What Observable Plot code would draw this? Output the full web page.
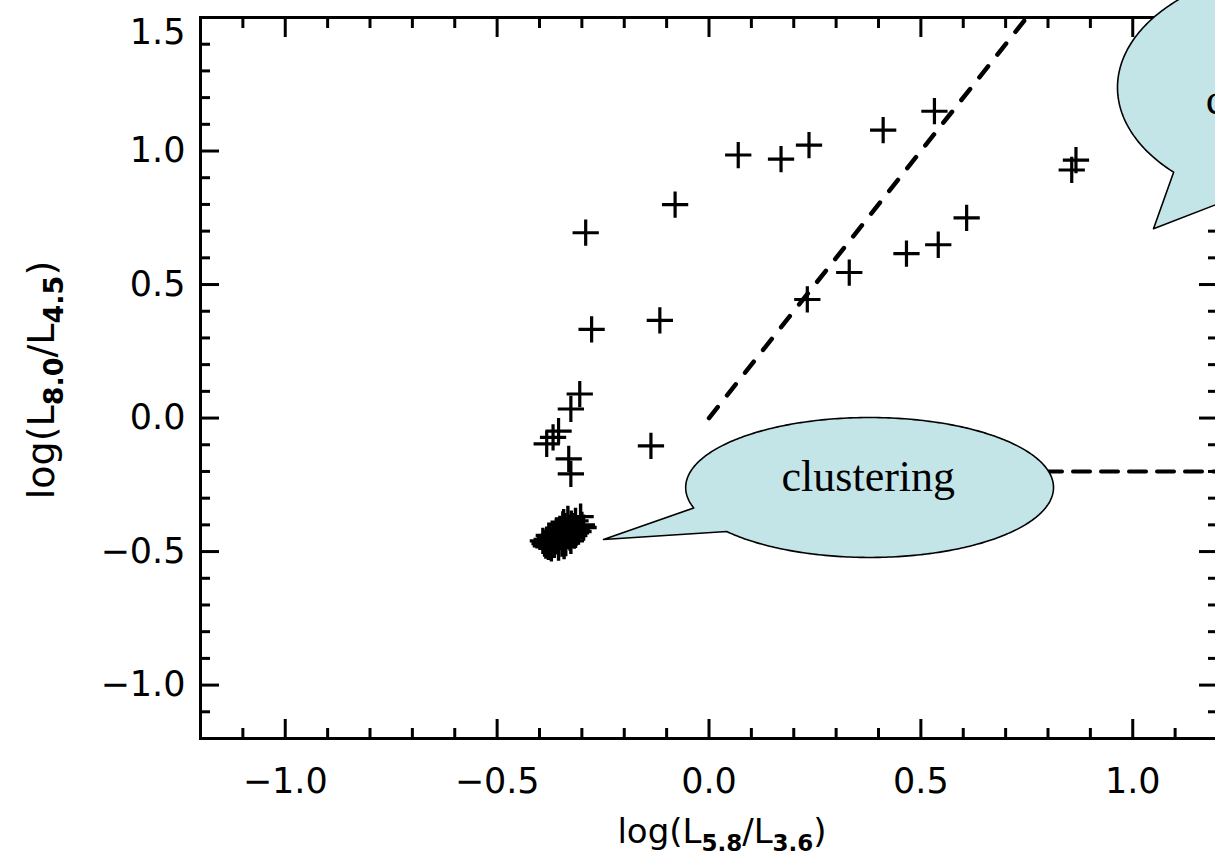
<!DOCTYPE html>
<html>
<head>
<meta charset="utf-8">
<script src="https://cdn.jsdelivr.net/npm/d3@7"></script>
<script src="https://cdn.jsdelivr.net/npm/@observablehq/plot@0.6"></script>
<style>
  html, body { margin: 0; padding: 0; background: #fff; overflow: hidden; }
  #chart { width: 1215px; height: 863px; overflow: hidden; }
  #chart svg { max-width: none !important; }
</style>
</head>
<body>
<div id="chart"></div>
<script>
// ---- scattered sources: log(L5.8/L3.6) vs log(L8.0/L4.5) ----
const ptX = [-0.291, -0.080, 0.069, 0.170, 0.236, 0.411, 0.532, 0.866, 0.856,
             0.608, 0.541, 0.466, 0.331, 0.232, -0.116, -0.277,
             -0.305, -0.326, -0.355, -0.368, -0.383, -0.331, -0.326, -0.137];
const ptY = [0.694, 0.799, 0.985, 0.970, 1.022, 1.078, 1.149, 0.966, 0.929,
             0.750, 0.649, 0.616, 0.545, 0.444, 0.366, 0.332,
             0.090, 0.034, -0.049, -0.072, -0.097, -0.153, -0.209, -0.104];

// ---- the dense clump near (-0.35, -0.43) ----
const clumpX = [-0.303, -0.315, -0.300, -0.325, -0.330, -0.312, -0.340, -0.345, -0.322, -0.335,
                -0.355, -0.350, -0.362, -0.340, -0.328, -0.368, -0.358, -0.375, -0.380, -0.347,
                -0.365, -0.385, -0.392, -0.372, -0.355, -0.338, -0.318, -0.308, -0.296, -0.352,
                -0.360, -0.378, -0.343, -0.333, -0.320, -0.336, -0.349, -0.364, -0.371, -0.383,
                -0.357, -0.342, -0.326, -0.314, -0.366, -0.388, -0.379, -0.352, -0.331, -0.345];
const clumpY = [-0.369, -0.385, -0.400, -0.395, -0.410, -0.418, -0.405, -0.420, -0.428, -0.436,
                -0.430, -0.445, -0.440, -0.452, -0.448, -0.455, -0.462, -0.448, -0.465, -0.470,
                -0.475, -0.478, -0.460, -0.488, -0.485, -0.468, -0.440, -0.425, -0.410, -0.415,
                -0.425, -0.440, -0.390, -0.378, -0.405, -0.422, -0.432, -0.450, -0.470, -0.455,
                -0.458, -0.480, -0.460, -0.430, -0.438, -0.470, -0.482, -0.440, -0.418, -0.398];

// ---- dashed reference lines ----
const diagX = [0.0, 0.75];
const diagY = [0.0, 1.5];
const horizX = [0.0, 1.2];
const horizY = [-0.2, -0.2];

// ---- axis ticks ----
const majorX = [-1.0, -0.5, 0.0, 0.5, 1.0];
const minorX = [-1.1, -0.9, -0.8, -0.7, -0.6, -0.4, -0.3, -0.2, -0.1, 0.1, 0.2, 0.3, 0.4, 0.6, 0.7, 0.8, 0.9, 1.1];
const majorY = [-1.0, -0.5, 0.0, 0.5, 1.0];
const topY = [1.5];
const minorY = [-1.1, -0.9, -0.8, -0.7, -0.6, -0.4, -0.3, -0.2, -0.1, 0.1, 0.2, 0.3, 0.4, 0.6, 0.7, 0.8, 0.9, 1.1, 1.2, 1.3, 1.4];

// ---- callouts (data units) ----
const calloutLabel = ["clustering", "correlation"];
const calloutCx = [0.379, 1.436];
const calloutCy = [-0.260, 1.238];
const calloutRx = [0.434, 0.472];
const calloutRy = [0.262, 0.457];
const calloutTipX = [-0.249, 1.049];
const calloutTipY = [-0.455, 0.709];
const calloutArc = [[163, 501], [136, 475]];
const calloutTextX = [0.376, 1.172];
const calloutTextY = [-0.219, 1.193];

const fmt = d3.format(".1f");
const blank = () => "";

const pts = ptX.map((x, i) => ({x, y: ptY[i]}));
const clump = clumpX.map((x, i) => ({x, y: clumpY[i]}));
const diag = diagX.map((x, i) => ({x, y: diagY[i]}));
const horiz = horizX.map((x, i) => ({x, y: horizY[i]}));

const outline = [];
calloutLabel.forEach((_, i) => {
  const [a0, a1] = calloutArc[i];
  for (let a = a0; a <= a1; a += 1) {
    const t = a * Math.PI / 180;
    outline.push({k: i, x: calloutCx[i] + calloutRx[i] * Math.cos(t), y: calloutCy[i] - calloutRy[i] * Math.sin(t)});
  }
  outline.push({k: i, x: calloutTipX[i], y: calloutTipY[i]});
});
const calloutTexts = calloutLabel.map((t, i) => ({t, x: calloutTextX[i], y: calloutTextY[i]}));

const axisStyle = {strokeWidth: 3, label: null};

const plot = Plot.plot({
  width: 1240,
  height: 863,
  marginLeft: 200,
  marginRight: 23,
  marginTop: 17,
  marginBottom: 125,
  x: {domain: [-1.2, 1.2]},
  y: {domain: [-1.2, 1.5]},
  style: {fontFamily: "'DejaVu Sans', sans-serif", fontSize: "35px", color: "black", background: "white", overflow: "visible"},
  marks: [
    Plot.line(horiz, {x: "x", y: "y", stroke: "black", strokeWidth: 4, strokeDasharray: "17,11"}),
    Plot.line(diag, {x: "x", y: "y", stroke: "black", strokeWidth: 4.5, strokeDasharray: "14,15"}),
    Plot.dot(pts, {x: "x", y: "y", symbol: "plus", r: 8.5, stroke: "black", strokeWidth: 3.2}),
    Plot.dot(clump, {x: "x", y: "y", symbol: "plus", r: 8.5, stroke: "black", strokeWidth: 3.4}),
    Plot.frame({stroke: "black", strokeWidth: 3}),
    Plot.axisX(majorX, {...axisStyle, anchor: "bottom", tickSize: -19, tickPadding: 49, tickFormat: fmt, fontSize: 35}),
    Plot.axisX(minorX, {...axisStyle, anchor: "bottom", tickSize: -10, tickFormat: blank}),
    Plot.axisX(majorX, {...axisStyle, anchor: "top", tickSize: -19, tickFormat: blank}),
    Plot.axisX(minorX, {...axisStyle, anchor: "top", tickSize: -10, tickFormat: blank}),
    Plot.axisY(majorY, {...axisStyle, anchor: "left", tickSize: -19, tickPadding: 34, tickFormat: fmt, fontSize: 35}),
    Plot.axisY(topY, {...axisStyle, anchor: "left", tickSize: 0, tickPadding: 15, dy: 15, tickFormat: fmt, fontSize: 35}),
    Plot.axisY(minorY, {...axisStyle, anchor: "left", tickSize: -10, tickFormat: blank}),
    Plot.axisY(majorY.concat(topY), {...axisStyle, anchor: "right", tickSize: -19, tickFormat: blank}),
    Plot.axisY(minorY, {...axisStyle, anchor: "right", tickSize: -10, tickFormat: blank}),
    Plot.line(outline, {x: "x", y: "y", z: "k", fill: "#c4e5e8", stroke: "black", strokeWidth: 1.6, curve: "linear-closed"}),
    Plot.text(calloutTexts, {x: "x", y: "y", text: "t", textAnchor: "middle", fontSize: 44, fontFamily: "'Liberation Serif', 'Times New Roman', serif", fill: "black"})
  ]
});

// Plot's textAnchor is a constant: the clipped top-right callout text starts at its left edge
const svg = d3.select(plot);
svg.selectAll("text").filter(function () { return this.textContent === calloutLabel[1]; })
  .attr("text-anchor", "start");

function addLabel(g, main1, sub1, main2, sub2, subSize, shift) {
  g.append("tspan").text(main1);
  g.append("tspan").attr("dy", shift).attr("font-size", subSize).attr("font-weight", "bold").text(sub1);
  g.append("tspan").attr("dy", -shift).text(main2);
  g.append("tspan").attr("dy", shift).attr("font-size", subSize).attr("font-weight", "bold").text(sub2);
  g.append("tspan").attr("dy", -shift).text(")");
}
const xl = svg.append("text")
  .attr("x", 722).attr("y", 843)
  .attr("text-anchor", "middle")
  .attr("font-family", "'DejaVu Sans', sans-serif")
  .attr("font-size", 34).attr("fill", "black");
addLabel(xl, "log(L", "5.8", "/L", "3.6", 23, 8);
const yl = svg.append("text")
  .attr("transform", "translate(54,380) rotate(-90)")
  .attr("text-anchor", "middle")
  .attr("font-family", "'DejaVu Sans', sans-serif")
  .attr("font-size", 38).attr("fill", "black");
addLabel(yl, "log(L", "8.0", "/L", "4.5", 27, 9);

document.getElementById("chart").appendChild(plot);
</script>
</body>
</html>
